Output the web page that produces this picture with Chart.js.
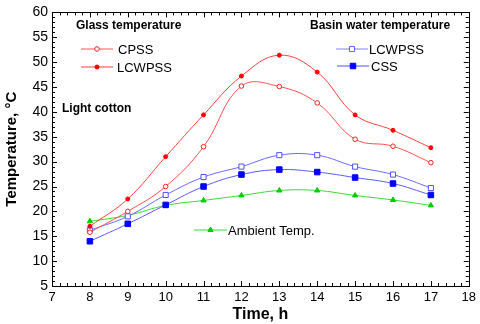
<!DOCTYPE html>
<html>
<head>
<meta charset="utf-8">
<script src="https://cdn.jsdelivr.net/npm/chart.js@4"></script>
<style>
  html, body { margin: 0; padding: 0; background: #fff; }
  #wrap { width: 480px; height: 324px; }
</style>
</head>
<body>
<div id="wrap"><canvas id="chart" width="480" height="324"></canvas></div>
<script>
// hours of the day (x)
var hours = [8, 9, 10, 11, 12, 13, 14, 15, 16, 17];

// glass temperature
var glassCpss = [15.8, 20, 25, 33, 45.2, 45.1, 41.8, 34.5, 33.1, 29.8];
var glassLcwpss = [17, 22.5, 31, 39.4, 47.2, 51.4, 48, 39.4, 36.3, 32.8];

// basin water temperature
var basinLcwpss = [16.2, 19, 23.3, 26.9, 29, 31.3, 31.3, 29, 27.4, 24.7];
var basinCss = [14, 17.5, 21.3, 25, 27.4, 28.4, 27.9, 26.8, 25.6, 23.3];

// ambient
var ambient = [18, 19.2, 21.2, 22.2, 23.2, 24.2, 24.2, 23.2, 22.3, 21.2];

var FONT = "'Liberation Sans', Arial, sans-serif";

function toPoints(values) {
  return hours.map(function (h, i) { return { x: h, y: values[i] }; });
}

// simple marker painter for the hand placed legend keys
function marker(ctx, kind, x, y, r, fill, stroke) {
  ctx.save();
  ctx.lineWidth = 1;
  ctx.fillStyle = fill;
  ctx.strokeStyle = stroke;
  ctx.beginPath();
  if (kind === "circle") {
    ctx.arc(x, y, r, 0, Math.PI * 2);
  } else if (kind === "rect") {
    var s = r * Math.SQRT1_2;
    ctx.rect(x - s, y - s, 2 * s, 2 * s);
  } else if (kind === "triangle") {
    ctx.moveTo(x, y - r);
    ctx.lineTo(x + r * 0.866, y + r * 0.5);
    ctx.lineTo(x - r * 0.866, y + r * 0.5);
    ctx.closePath();
  }
  ctx.fill();
  ctx.stroke();
  ctx.restore();
}

function legendKey(ctx, x1, x2, y, lineColor, lineWidth, kind, r, fill, stroke, label, tx) {
  ctx.save();
  ctx.strokeStyle = lineColor;
  ctx.lineWidth = lineWidth;
  ctx.beginPath();
  ctx.moveTo(x1, y);
  ctx.lineTo(x2, y);
  ctx.stroke();
  marker(ctx, kind, (x1 + x2) / 2, y, r, fill, stroke);
  ctx.fillStyle = "#000";
  ctx.font = "13px " + FONT;
  ctx.textBaseline = "middle";
  ctx.textAlign = "left";
  ctx.fillText(label, tx, y + 1);
  ctx.restore();
}

// frame with inward tick marks on all four sides
var framePlugin = {
  id: "frame",
  afterDraw: function (chart) {
    var ctx = chart.ctx;
    var a = chart.chartArea;
    var xs = chart.scales.x;
    var ys = chart.scales.y;
    ctx.save();
    ctx.strokeStyle = "#000";
    ctx.lineWidth = 1;
    ctx.strokeRect(Math.round(a.left) + 0.5, Math.round(a.top) + 0.5,
      Math.round(a.right - a.left), Math.round(a.bottom - a.top));
    ctx.beginPath();
    var i, px, len;
    for (i = 0; i <= 55; i++) {
      var v = 7 + i * 0.2;
      px = Math.round(xs.getPixelForValue(v)) + 0.5;
      len = (i % 5 === 0) ? 5 : 3;
      ctx.moveTo(px, a.bottom);
      ctx.lineTo(px, a.bottom - len);
      ctx.moveTo(px, a.top);
      ctx.lineTo(px, a.top + len);
    }
    for (i = 5; i <= 60; i++) {
      px = Math.round(ys.getPixelForValue(i)) + 0.5;
      len = (i % 5 === 0) ? 5 : 3;
      ctx.moveTo(a.left, px);
      ctx.lineTo(a.left + len, px);
      ctx.moveTo(a.right, px);
      ctx.lineTo(a.right - len, px);
    }
    ctx.stroke();

    // captions and legend keys
    ctx.fillStyle = "#000";
    ctx.font = "bold 12px " + FONT;
    ctx.textBaseline = "middle";
    ctx.fillText("Glass temperature", 76, 26);
    ctx.fillText("Light cotton", 62, 109);
    ctx.fillText("Basin water temperature", 310, 26);
    ctx.restore();

    legendKey(ctx, 81, 113, 49, "#ffaaaa", 2, "circle", 2.3, "#fff", "#ff2020", "CPSS", 118);
    legendKey(ctx, 81, 113, 67, "#ff4040", 1, "circle", 2, "#ff0000", "#ff0000", "LCWPSS", 117);
    legendKey(ctx, 336, 368, 49, "#8080ff", 1, "rect", 3.6, "#fff", "#6060ff", "LCWPSS", 369);
    legendKey(ctx, 337, 369, 66, "#5050ff", 1, "rect", 3.9, "#0000ff", "#0000ff", "CSS", 371);
    legendKey(ctx, 194, 227, 230, "#33dd33", 1, "triangle", 3, "#00cc00", "#00cc00", "Ambient Temp.", 228);
  }
};

new Chart(document.getElementById("chart"), {
  type: "line",
  data: {
    datasets: [
      {
        label: "CPSS (glass)",
        data: toPoints(glassCpss),
        borderColor: "#ff5050",
        borderWidth: 1,
        tension: 0.4,
        pointStyle: "circle",
        pointRadius: 2.3,
        pointBackgroundColor: "#fff",
        pointBorderColor: "#ff2020",
        pointBorderWidth: 1
      },
      {
        label: "LCWPSS (glass)",
        data: toPoints(glassLcwpss),
        borderColor: "#ff4040",
        borderWidth: 1,
        tension: 0.4,
        pointStyle: "circle",
        pointRadius: 2,
        pointBackgroundColor: "#ff0000",
        pointBorderColor: "#ff0000",
        pointBorderWidth: 1
      },
      {
        label: "LCWPSS (basin)",
        data: toPoints(basinLcwpss),
        borderColor: "#6a6aff",
        borderWidth: 1,
        tension: 0.4,
        pointStyle: "rect",
        pointRadius: 3.6,
        pointBackgroundColor: "#fff",
        pointBorderColor: "#5050ff",
        pointBorderWidth: 1
      },
      {
        label: "CSS (basin)",
        data: toPoints(basinCss),
        borderColor: "#5a5aff",
        borderWidth: 1,
        tension: 0.4,
        pointStyle: "rect",
        pointRadius: 3.9,
        pointBackgroundColor: "#0000ff",
        pointBorderColor: "#0000ff",
        pointBorderWidth: 1
      },
      {
        label: "Ambient Temp.",
        data: toPoints(ambient),
        borderColor: "#33dd33",
        borderWidth: 1,
        tension: 0.4,
        pointStyle: "triangle",
        pointRadius: 3,
        pointBackgroundColor: "#00cc00",
        pointBorderColor: "#00cc00",
        pointBorderWidth: 1
      }
    ]
  },
  options: {
    responsive: false,
    animation: false,
    events: [],
    layout: { padding: { top: 8, right: 8, left: 0, bottom: 0 } },
    plugins: {
      legend: { display: false },
      tooltip: { enabled: false },
      title: { display: false }
    },
    scales: {
      x: {
        type: "linear",
        min: 7,
        max: 18,
        grid: { display: false, drawTicks: false },
        border: { display: false },
        afterFit: function (s) { s.height = 38; },
        ticks: {
          stepSize: 1,
          padding: 4,
          color: "#000",
          font: { family: FONT, size: 13 }
        },
        title: {
          display: true,
          text: "Time, h",
          color: "#000",
          padding: { top: 0, bottom: 0 },
          font: { family: FONT, size: 16, weight: "bold" }
        }
      },
      y: {
        min: 5,
        max: 60,
        grid: { display: false, drawTicks: false },
        border: { display: false },
        afterFit: function (s) { s.width = 52; },
        ticks: {
          stepSize: 5,
          padding: 4,
          color: "#000",
          font: { family: FONT, size: 14 }
        },
        title: {
          display: true,
          text: "Temperature, °C",
          color: "#000",
          padding: { top: 3, bottom: 0 },
          font: { family: FONT, size: 15, weight: "bold" }
        }
      }
    }
  },
  plugins: [framePlugin]
});
</script>
</body>
</html>
